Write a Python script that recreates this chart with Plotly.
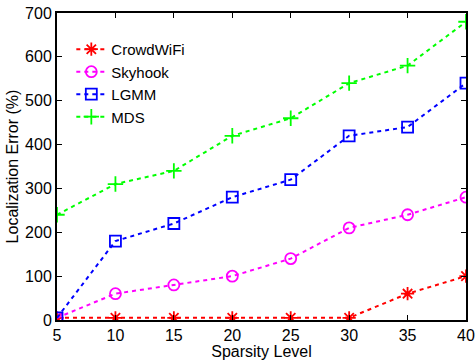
import plotly.graph_objects as go

x = [5, 10, 15, 20, 25, 30, 35, 40]
crowdwifi = [5, 5, 5, 5, 5, 5, 60, 100]
skyhook = [5, 60, 80, 100, 140, 210, 240, 280]
lgmm = [5, 180, 220, 280, 320, 420, 440, 540]
mds = [240, 310, 340, 420, 460, 540, 580, 680]

series = [
    ("CrowdWiFi", crowdwifi, "#ff0000", "asterisk-open"),
    ("Skyhook", skyhook, "#ff00ff", "circle-open"),
    ("LGMM", lgmm, "#0000ff", "square-open"),
    ("MDS", mds, "#00ff00", "cross-thin-open"),
]

fig = go.Figure()
for name, y, c, sym in series:
    fig.add_trace(go.Scatter(
        x=x, y=y, name=name, mode="lines+markers",
        line=dict(color=c, width=2, dash="4px,4px"),
        marker=dict(symbol=sym, size=11, color=c, line=dict(color=c, width=1.8)),
    ))

font = dict(family="Liberation Sans, Arial, sans-serif", size=16, color="black")
fig.update_layout(
    width=476, height=360,
    margin=dict(l=57, r=10, t=13, b=40),
    paper_bgcolor="white", plot_bgcolor="white",
    font=font,
    showlegend=True,
    legend=dict(x=0.035, y=0.935, xanchor="left", yanchor="top",
                bgcolor="rgba(0,0,0,0)", borderwidth=0,
                font=dict(size=15), itemwidth=30, tracegroupgap=0),
)
fig.update_xaxes(
    range=[5, 40], tickvals=[5, 10, 15, 20, 25, 30, 35, 40],
    showline=True, linecolor="black", linewidth=2, mirror="ticks",
    ticks="inside", ticklen=5, tickcolor="black", showgrid=False, zeroline=False,
    automargin=False, tickfont=dict(size=16),
    title=dict(text="Sparsity Level", standoff=0, font=dict(size=16)),
)
fig.update_yaxes(
    range=[0, 700], tickvals=[0, 100, 200, 300, 400, 500, 600, 700],
    showline=True, linecolor="black", linewidth=2, mirror="ticks",
    ticks="inside", ticklen=5, tickcolor="black", showgrid=False, zeroline=False,
    automargin=False, tickfont=dict(size=16),
    title=dict(text="Localization Error (%)", standoff=2, font=dict(size=16)),
)
fig.write_html("out.html")
